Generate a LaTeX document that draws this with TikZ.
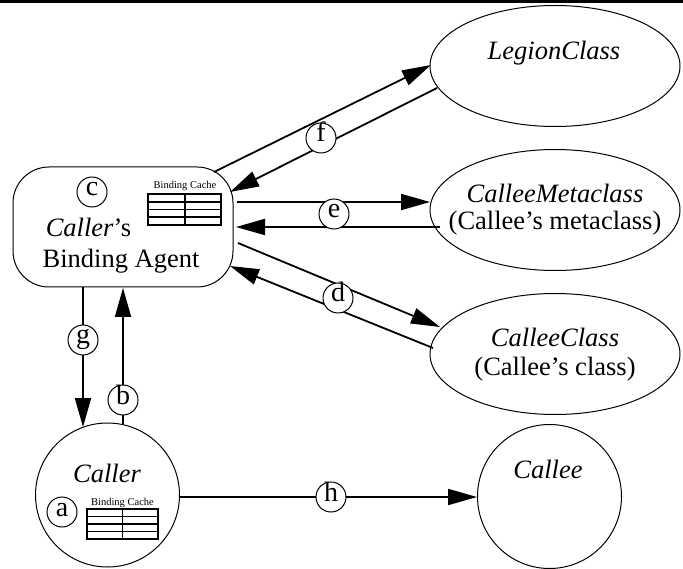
\documentclass[tikz,border=0pt]{standalone}
\usepackage{fontspec}
\setmainfont{Liberation Serif}
\usetikzlibrary{arrows.meta,shapes.geometric}
\tikzset{
  big/.style={font=\fontsize{26.5}{30}\selectfont},
  ellnode/.style={ellipse,draw,line width=1pt,minimum width=250pt,minimum height=121pt,inner sep=0pt},
  circnode/.style={circle,draw,line width=1pt,minimum size=144pt,inner sep=0pt},
  conn/.style={line width=1.8pt},
  tipconn/.style={conn,-{Triangle[length=29pt,width=16pt]}},
  lbl/.style={circle,draw,fill=white,line width=1pt,minimum size=30pt,inner sep=0pt,
              font=\fontsize{28}{30}\selectfont,text height=8pt,text depth=0pt},
  txt/.style={big,anchor=base,inner sep=0pt},
  small/.style={font=\fontsize{10.5}{12}\selectfont,anchor=base,inner sep=0pt},
  cache/.style={line width=1.8pt}
}
\begin{document}
\begin{tikzpicture}[x=1pt,y=-1pt]
\useasboundingbox (0,0) rectangle (683,569);
\draw[line width=3pt] (0,1.5) -- (683,1.5);

% main nodes
\node[ellnode] (legion) at (555,66) {};
\node[txt] (legiont) at (554,60) {\textit{LegionClass}};
\node[ellnode] (meta) at (555,210) {};
\node[txt] (metat1) at (555,203) {\textit{CalleeMetaclass}};
\node[txt] (metat2) at (555,230) {(Callee’s metaclass)};
\node[ellnode] (cls) at (555,354) {};
\node[txt] (clst1) at (555,347) {\textit{CalleeClass}};
\node[txt] (clst2) at (555,375) {(Callee’s class)};
\node[circnode] (callee) at (549.5,496.5) {};
\node[txt] (calleet) at (548,478) {\textit{Callee}};
\node[circnode] (caller) at (107.5,495) {};
\node[txt] (callert) at (107,482) {\textit{Caller}};
\node[draw,line width=1pt,rounded corners=36pt,minimum width=220pt,minimum height=120pt,inner sep=0pt] (agent) at (123,227) {};
\node[txt] (agentt1) at (88.5,237) {\textit{Caller}’s};
\node[txt] (agentt2) at (121,268) {Binding Agent};

% binding caches
\node[small] (bc1) at (185,189) {Binding Cache};
\draw[cache] (148,194) rectangle (221,225);
\draw[cache] (185,194) -- (185,225)
  (148,201.75) -- (221,201.75) (148,209.5) -- (221,209.5) (148,217.25) -- (221,217.25);
\node[small] (bc2) at (122.5,505) {Binding Cache};
\draw[cache] (87,509) rectangle (158,539);
\draw[cache] (122.5,509) -- (122.5,539)
  (87,516.5) -- (158,516.5) (87,524) -- (158,524) (87,531.5) -- (158,531.5);

% connector endpoints
\coordinate (f1s) at (214,172);
\coordinate (f1e) at (431,65);
\coordinate (f2s) at (437,88);
\coordinate (f2e) at (230,192);
\coordinate (e1s) at (237,202);
\coordinate (e1e) at (430,202);
\coordinate (e2s) at (440,227);
\coordinate (e2e) at (236,227);
\coordinate (d1s) at (238,243);
\coordinate (d1e) at (440,327);
\coordinate (d2s) at (433,348);
\coordinate (d2e) at (230,266);
\coordinate (gs) at (83,287);
\coordinate (ge) at (83,427);
\coordinate (bs) at (123,424);
\coordinate (be) at (123,288);
\coordinate (hs) at (180,497);
\coordinate (he) at (477,497);

\draw[tipconn] (f1s) -- (f1e);
\draw[tipconn] (f2s) -- (f2e);
\draw[tipconn] (e1s) -- (e1e);
\draw[tipconn] (e2s) -- (e2e);
\draw[tipconn] (d1s) -- (d1e);
\draw[tipconn] (d2s) -- (d2e);
\draw[tipconn] (gs) -- (ge);
\draw[tipconn] (bs) -- (be);
\draw[tipconn] (hs) -- (he);

% step labels
\node[lbl] (lf) at (321,138) {f};
\node[lbl] (le) at (334,214) {e};
\node[lbl] (ld) at (338,298) {d};
\node[lbl] (lg) at (83,340) {g};
\node[lbl] (lb) at (123,400) {b};
\node[lbl] (lh) at (331,497) {h};
\node[lbl] (lc) at (92,192) {c};
\node[lbl] (la) at (62,512) {a};
\end{tikzpicture}
\end{document}
